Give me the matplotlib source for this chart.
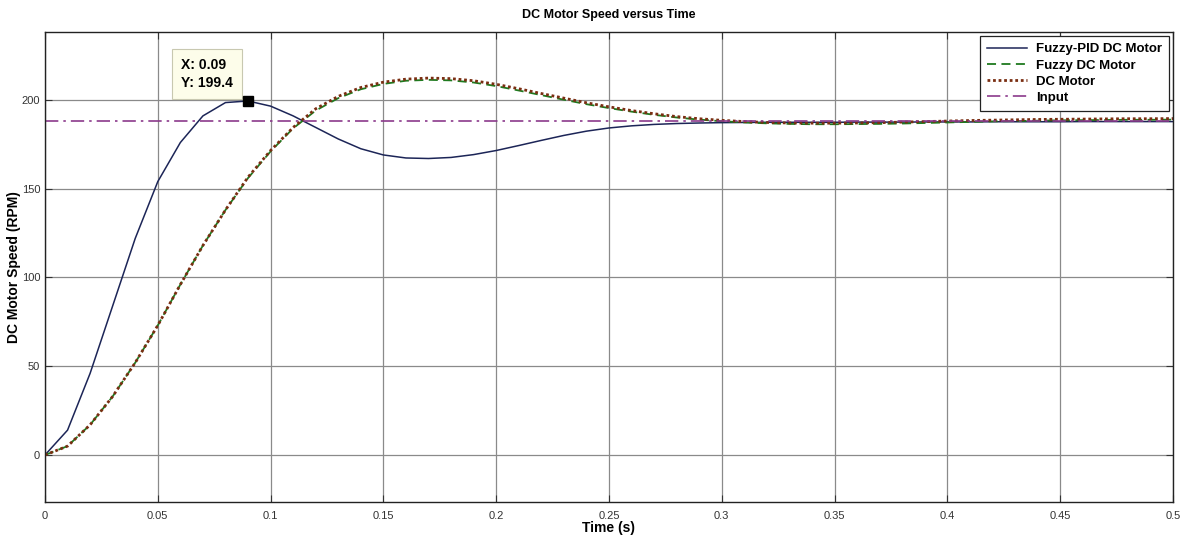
import numpy as np
import matplotlib.pyplot as plt

plt.rcParams['font.family'] = ['Liberation Sans', 'DejaVu Sans']

# --- data (0.01 s steps) ---
time_s = np.round(np.arange(0, 0.501, 0.01), 2)

fuzzy_pid = [0, 14, 46, 84, 122, 154, 176, 191, 198.5, 199.4,
             196.5, 191, 184.5, 178, 172.5, 169, 167.3, 167, 167.6, 169.2,
             171.5, 174.3, 177.2, 180, 182.4, 184.2, 185.4, 186.2, 186.7, 187,
             187.2, 187.3, 187.4, 187.4, 187.4, 187.4, 187.5, 187.5, 187.5, 187.6,
             187.6, 187.6, 187.7, 187.7, 187.7, 187.7, 187.8, 187.8, 187.8, 187.8,
             187.8]

fuzzy_dc = [0, 5, 17, 33, 52, 73, 96, 118, 138, 156,
            171, 184, 194, 201, 206, 209, 210.8, 211.3, 211, 209.8,
            207.8, 205.3, 202.7, 200.1, 197.6, 195.4, 193.4, 191.6, 190.1, 188.9,
            188, 187.3, 186.8, 186.5, 186.3, 186.3, 186.4, 186.5, 186.7, 187,
            187.3, 187.6, 187.9, 188.1, 188.3, 188.5, 188.6, 188.7, 188.8, 188.8,
            188.9]

dc_motor = [0, 5, 17, 33, 52, 73, 96, 118, 138, 156.5,
            171.5, 184.5, 195, 202, 207, 210, 211.7, 212.3, 212, 210.8,
            208.8, 206.3, 203.6, 201, 198.4, 196.1, 194, 192.2, 190.6, 189.4,
            188.5, 187.8, 187.3, 187, 186.9, 186.9, 187, 187.2, 187.5, 187.8,
            188.1, 188.4, 188.6, 188.8, 189, 189.1, 189.2, 189.3, 189.4, 189.4,
            189.5]

input_speed = 188

tip_x, tip_y = 0.09, 199.4

fig = plt.figure(figsize=(11.84, 5.41), dpi=100)
ax = fig.add_axes([0.038, 0.072, 0.9527, 0.869])

ax.plot(time_s, fuzzy_pid, color='#1c2557', lw=1.1, label='Fuzzy-PID DC Motor')
ax.plot(time_s, fuzzy_dc, color='#1f7a1f', lw=1.3, ls=(0, (5, 3)), label='Fuzzy DC Motor')
ax.plot(time_s, dc_motor, color='#7a2e12', lw=2.0, ls=(0, (1, 1)), label='DC Motor')
ax.axhline(input_speed, color='#8b3a8b', lw=1.2, ls=(0, (8, 3, 1.5, 3)), label='Input')

# data tip
ax.plot(tip_x, tip_y, marker='s', color='black', ms=7, zorder=5)
ax.text(0.0605, 214.5, f'X: {tip_x}\nY: {tip_y}', fontsize=10, fontweight='bold',
        va='center', ha='left', linespacing=1.4,
        bbox=dict(boxstyle='square,pad=0.65', facecolor='#fdfdea', edgecolor='#c8c8b0', lw=0.8))

ax.set_xlim(0, 0.5)
ax.set_ylim(-26.5, 238.3)
ax.set_xticks(np.arange(0, 0.501, 0.05))
ax.set_xticklabels(['0', '0.05', '0.1', '0.15', '0.2', '0.25', '0.3', '0.35', '0.4', '0.45', '0.5'])
ax.set_yticks([0, 50, 100, 150, 200])
ax.tick_params(direction='in', top=True, right=True, labelsize=8, length=5, colors='#333333')
ax.tick_params(axis='x', pad=6.5)
ax.tick_params(axis='y', pad=3.5)
ax.grid(True, color='#8a8a8a', lw=0.9)
for s in ax.spines.values():
    s.set_color('#222222')
    s.set_linewidth(1.0)

ax.set_title('DC Motor Speed versus Time', fontsize=9, fontweight='bold', pad=10)
ax.set_xlabel('Time (s)', fontsize=10, fontweight='bold', labelpad=0)
ax.set_ylabel('DC Motor Speed (RPM)', fontsize=10, fontweight='bold')
ax.yaxis.set_label_coords(-0.021, 0.5)

leg = ax.legend(loc='upper right', prop={'weight': 'bold', 'size': 9.5},
                frameon=True, fancybox=False, edgecolor='#222222', framealpha=1,
                borderaxespad=0.3, handlelength=3.0, handletextpad=0.7,
                labelspacing=0.3, borderpad=0.55)
leg.get_frame().set_linewidth(0.9)

plt.savefig('out.png', dpi=100)
